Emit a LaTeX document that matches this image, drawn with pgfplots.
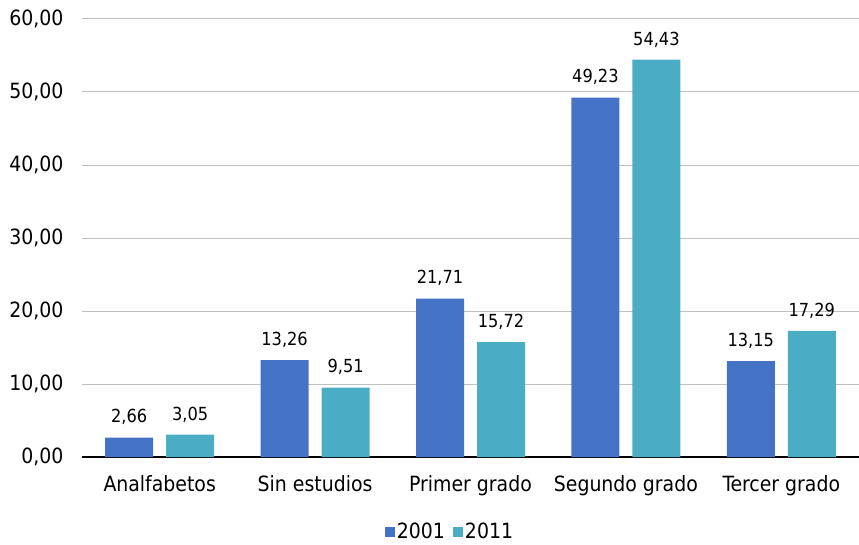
\documentclass[border=0pt]{standalone}
\usepackage{fontspec}
\setmainfont{DejaVu Sans Condensed}
\usepackage{pgfplots}
\pgfplotsset{compat=1.18}
\definecolor{cA}{HTML}{4472C4}
\definecolor{cB}{HTML}{4BACC6}
\definecolor{grid}{HTML}{D9D9D9}
\begin{document}
\begin{tikzpicture}
\path[use as bounding box] (0,0) rectangle (859pt,544pt);
\begin{axis}[
  at={(82pt,87pt)}, anchor=south west,
  scale only axis, width=777pt, height=438pt,
  xmin=-0.5, xmax=4.5, ymin=0, ymax=60,
  ytick={0,10,...,60},
  xtick={0,1,2,3,4},
  xticklabels={Analfabetos,Sin estudios,Primer grado,Segundo grado,Tercer grado},
  major tick length=0pt,
  axis x line*=bottom, axis y line*=left,
  y axis line style={draw=none},
  xmajorgrids=false, ymajorgrids=true, grid style={grid, line width=1pt},
  x axis line style={black, line width=1.5pt, -},
  ybar, bar width=48pt,
  /pgf/number format/assume math mode=true,
  /pgf/number format/.cd, fixed, fixed zerofill, precision=2, use comma,
  /pgfplots/.cd,
  yticklabel style={font=\fontsize{21}{24}\selectfont, xshift=-15pt},
  xticklabel style={font=\fontsize{21}{24}\selectfont, yshift=-15pt},
  nodes near coords,
  nodes near coords style={font=\fontsize{18}{21}\selectfont, black, yshift=9pt, /pgf/number format/.cd, fixed, fixed zerofill, precision=2, use comma, assume math mode=true},
  legend style={at={(0.4736,-0.171)}, anchor=center, draw=none, legend columns=2,
    font=\fontsize{21}{24}\selectfont, /tikz/every even column/.append style={column sep=6pt}},
  legend image code/.code={\fill[#1] (0pt,-5pt) rectangle (10pt,5pt);},
]
\addplot[fill=cA, draw=none, bar shift=-30.5pt] coordinates {(0,2.66) (1,13.26) (2,21.71) (3,49.23) (4,13.15)};
\addplot[fill=cB, draw=none, bar shift=30.5pt] coordinates {(0,3.05) (1,9.51) (2,15.72) (3,54.43) (4,17.29)};
\legend{2001,2011}
\end{axis}
\end{tikzpicture}
\end{document}
